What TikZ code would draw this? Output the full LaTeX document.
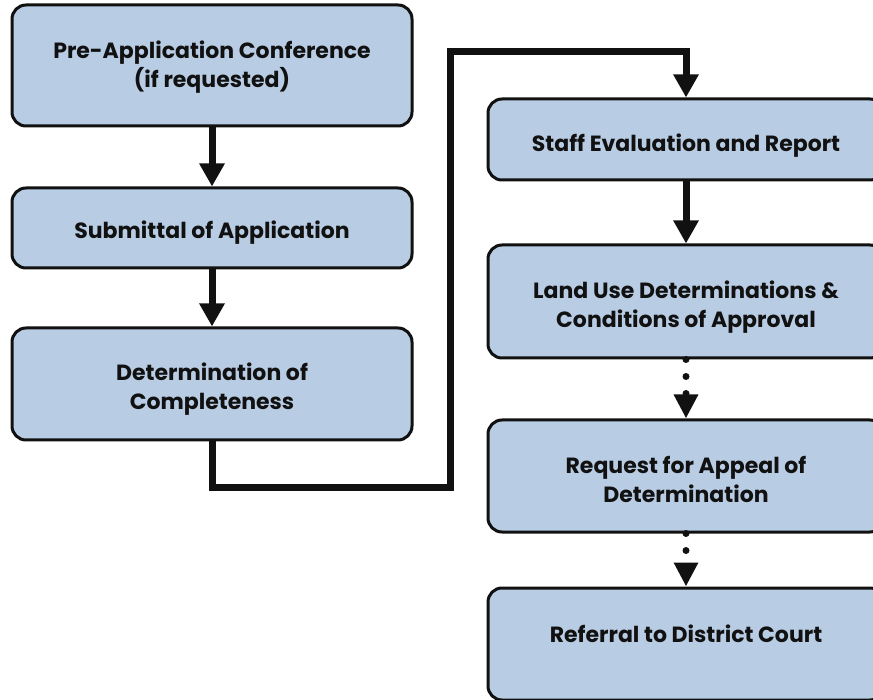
\documentclass[tikz,border=0pt]{standalone}
\usepackage{fontspec}
\setmainfont{Poppins}
\usetikzlibrary{arrows.meta}
\definecolor{boxfill}{HTML}{B8CCE4}
\definecolor{ink}{HTML}{111111}
\tikzset{
  stepbox/.style={draw=ink, line width=3pt, fill=boxfill, rounded corners=14pt,
    minimum width=400pt, inner sep=0pt},
  steptext/.style={align=center, text=ink, inner sep=0pt,
    font=\fontsize{22}{29}\selectfont\bfseries},
  flow/.style={draw=ink, line width=7pt, -{Triangle[length=23pt,width=24pt]}},
  dotflow/.style={draw=ink, line width=7pt, line cap=round, dash pattern=on 0pt off 17pt,
    -{Triangle[length=24pt,width=23pt]}}
}
\begin{document}
\begin{tikzpicture}[x=1pt,y=-1pt]
\clip (0,0) rectangle (873,700);
\fill[white] (0,0) rectangle (873,700);
\node[stepbox, minimum height=121pt] (b1) at (212,65.5) {};
\node[stepbox, minimum height=80pt] (b2) at (212,228) {};
\node[stepbox, minimum height=112pt] (b3) at (212,384) {};
\node[stepbox, minimum width=396pt, minimum height=81pt] (b4) at (686,139.5) {};
\node[stepbox, minimum width=396pt, minimum height=113pt] (b5) at (686,301.5) {};
\node[stepbox, minimum width=396pt, minimum height=112pt] (b6) at (686,476) {};
\node[stepbox, minimum width=396pt, minimum height=112pt] (b7) at (686,644) {};
\node[steptext] (t1) at (212,67.7) {\strut Pre-Application Conference\\\strut(if requested)};
\node[steptext] (t2) at (212,233.2) {\strut Submittal of Application};
\node[steptext] (t3) at (212,389.2) {\strut Determination of\\\strut Completeness};
\node[steptext] (t4) at (686,146.2) {\strut Staff Evaluation and Report};
\node[steptext] (t5) at (686,307.2) {\strut Land Use Determinations \&\\\strut Conditions of Approval};
\node[steptext] (t6) at (686,481.7) {\strut Request for Appeal of\\\strut Determination};
\node[steptext] (t7) at (686,636.2) {\strut Referral to District Court};
\coordinate (c1) at (212,487);
\coordinate (c2) at (450,52);
\draw[flow] (b1.south) -- (b2.north);
\draw[flow] (b2.south) -- (b3.north);
\draw[flow] (b3.south) -- (c1) -- (c1 -| c2) -- (c2) -| (b4.north);
\draw[flow] (b4.south) -- (b5.north);
\draw[dotflow] (b5.south) -- (b6.north);
\draw[dotflow] (b6.south) -- (b7.north);
\end{tikzpicture}
\end{document}
